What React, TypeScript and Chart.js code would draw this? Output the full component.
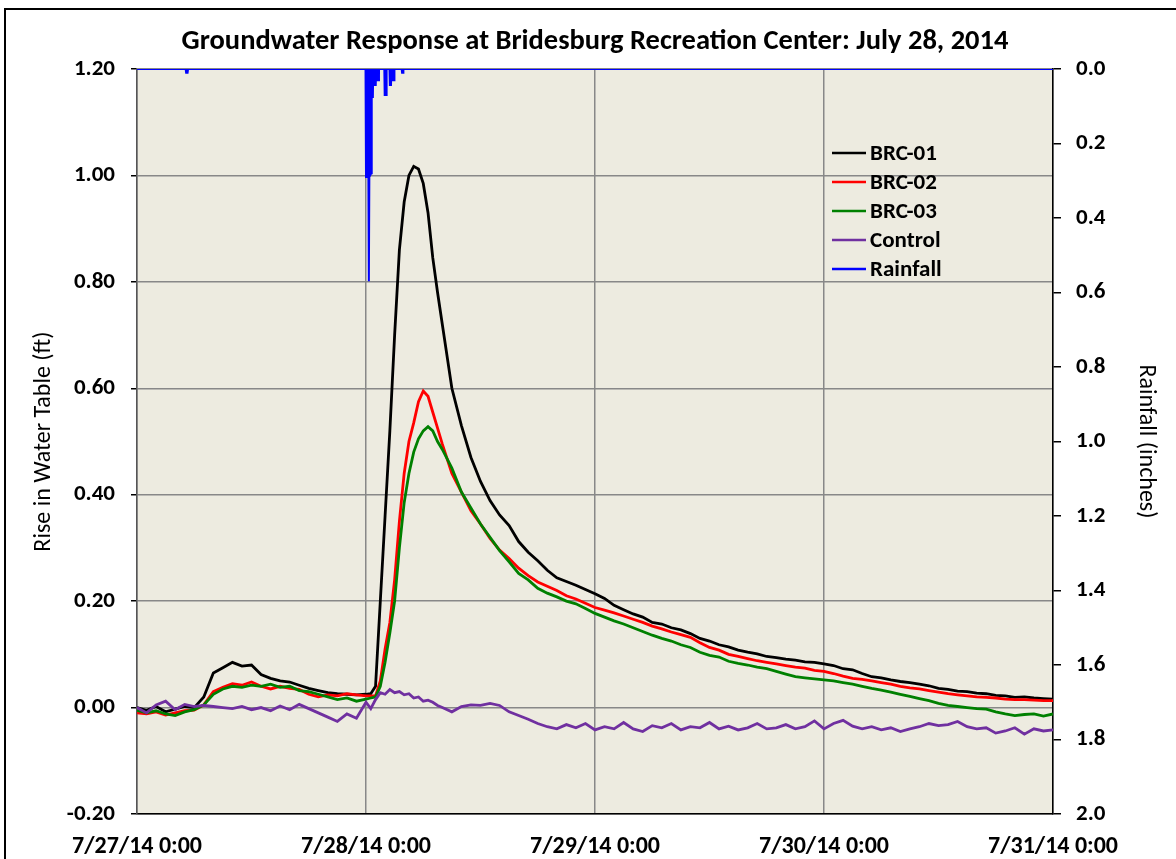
import React, { useEffect, useRef } from "react";
import { Chart, registerables } from "chart.js";

Chart.register(...registerables);

const TITLE = "Groundwater Response at Bridesburg Recreation Center: July 28, 2014";
const LEFT_TITLE = "Rise in Water Table (ft)";
const RIGHT_TITLE = "Rainfall (inches)";
const xTickLabels = ["7/27/14 0:00", "7/28/14 0:00", "7/29/14 0:00", "7/30/14 0:00", "7/31/14 0:00"];
const seriesNames = ["BRC-01", "BRC-02", "BRC-03", "Control", "Rainfall"];
const seriesColors = ["#000000", "#FF0000", "#008000", "#7030A0", "#0000FF"];

// hours since 7/27/14 0:00
const hours = [
  0, 1, 2, 3, 4, 5, 6, 7, 8, 9, 10, 11, 12,
  13, 14, 15, 16, 17, 18, 19, 20, 21, 22, 23, 24,
  24.5, 25, 25.5, 26, 26.5, 27, 27.5, 28, 28.5, 29, 29.5, 30, 30.5, 31, 31.5, 32,
  33, 34, 35, 36, 37, 38, 39, 40, 41, 42, 43, 44, 45, 46, 47, 48,
  49, 50, 51, 52, 53, 54, 55, 56, 57, 58, 59, 60, 61, 62, 63, 64,
  65, 66, 67, 68, 69, 70, 71, 72, 73, 74, 75, 76, 77, 78, 79, 80,
  81, 82, 83, 84, 85, 86, 87, 88, 89, 90, 91, 92, 93, 94, 95, 96,
];

const brc01 = [
  0.0, -0.005, 0.002, -0.008, -0.003, 0.002, 0.0, 0.02, 0.065, 0.075, 0.085, 0.078, 0.08,
  0.062, 0.055, 0.05, 0.048, 0.042, 0.036, 0.032, 0.028, 0.026, 0.025, 0.024, 0.025,
  0.026, 0.04, 0.2, 0.36, 0.52, 0.7, 0.86, 0.95, 1.0, 1.017, 1.012, 0.985, 0.93, 0.845, 0.78, 0.72,
  0.6, 0.53, 0.47, 0.425, 0.389, 0.362, 0.342, 0.312, 0.292, 0.276, 0.258, 0.244, 0.237, 0.23, 0.222, 0.214,
  0.205, 0.192, 0.184, 0.176, 0.17, 0.16, 0.157, 0.15, 0.146, 0.139, 0.13, 0.125, 0.118, 0.114, 0.108, 0.104,
  0.101, 0.096, 0.094, 0.091, 0.089, 0.086, 0.085, 0.082, 0.079, 0.073, 0.071, 0.064, 0.058, 0.056, 0.052, 0.049,
  0.047, 0.044, 0.041, 0.036, 0.034, 0.031, 0.03, 0.027, 0.026, 0.023, 0.022, 0.019, 0.02, 0.018, 0.017, 0.016,
];

const brc02 = [
  -0.01, -0.012, -0.008, -0.014, -0.01, -0.006, -0.005, 0.005, 0.03, 0.038, 0.045, 0.042, 0.048,
  0.04, 0.035, 0.04, 0.036, 0.034, 0.025, 0.02, 0.024, 0.022, 0.026, 0.024, 0.022,
  0.022, 0.022, 0.05, 0.11, 0.16, 0.24, 0.35, 0.44, 0.5, 0.535, 0.575, 0.595, 0.585, 0.555, 0.525, 0.495,
  0.44, 0.405, 0.37, 0.345, 0.318, 0.296, 0.28, 0.262, 0.248, 0.236, 0.228, 0.22, 0.21, 0.204, 0.196, 0.188,
  0.183, 0.178, 0.172, 0.166, 0.16, 0.153, 0.148, 0.142, 0.137, 0.132, 0.122, 0.113, 0.108, 0.1, 0.096, 0.092,
  0.088, 0.085, 0.082, 0.079, 0.076, 0.074, 0.07, 0.068, 0.064, 0.059, 0.055, 0.053, 0.05, 0.047, 0.044, 0.04,
  0.037, 0.035, 0.032, 0.029, 0.026, 0.024, 0.022, 0.02, 0.019, 0.018, 0.016, 0.015, 0.015, 0.014, 0.013, 0.013,
];

const brc03 = [
  -0.005, -0.01, -0.006, -0.012, -0.015, -0.008, -0.004, 0.005, 0.025, 0.035, 0.04, 0.038, 0.042,
  0.04, 0.044, 0.038, 0.04, 0.032, 0.03, 0.025, 0.02, 0.015, 0.018, 0.012, 0.016,
  0.018, 0.02, 0.04, 0.085, 0.14, 0.2, 0.3, 0.385, 0.44, 0.48, 0.505, 0.52, 0.528, 0.52, 0.5, 0.485,
  0.45, 0.405, 0.375, 0.345, 0.32, 0.295, 0.274, 0.252, 0.24, 0.224, 0.215, 0.208, 0.2, 0.195, 0.186, 0.177,
  0.17, 0.163, 0.157, 0.15, 0.143, 0.136, 0.13, 0.125, 0.118, 0.113, 0.104, 0.098, 0.095, 0.087, 0.083, 0.08,
  0.076, 0.073, 0.068, 0.063, 0.058, 0.056, 0.054, 0.052, 0.05, 0.047, 0.044, 0.04, 0.036, 0.033, 0.029, 0.025,
  0.021, 0.017, 0.013, 0.008, 0.004, 0.002, 0.0, -0.002, -0.003, -0.008, -0.012, -0.015, -0.013, -0.012, -0.016, -0.012,
];

const control = [
  0.0, -0.01, 0.005, 0.012, -0.004, 0.006, 0.002, 0.004, 0.002, 0.0, -0.002, 0.002, -0.004,
  0.0, -0.006, 0.003, -0.004, 0.006, -0.002, -0.01, -0.018, -0.026, -0.012, -0.02, 0.01,
  -0.002, 0.015, 0.028, 0.025, 0.034, 0.028, 0.03, 0.024, 0.026, 0.018, 0.02, 0.012, 0.014, 0.01, 0.004, 0.0,
  -0.008, 0.002, 0.005, 0.004, 0.008, 0.004, -0.008, -0.015, -0.022, -0.03, -0.036, -0.04, -0.032, -0.038, -0.03, -0.042,
  -0.036, -0.04, -0.028, -0.04, -0.045, -0.034, -0.038, -0.03, -0.042, -0.036, -0.038, -0.028, -0.04, -0.035, -0.042, -0.038,
  -0.03, -0.04, -0.038, -0.032, -0.04, -0.036, -0.025, -0.04, -0.03, -0.024, -0.035, -0.04, -0.036, -0.042, -0.038, -0.045,
  -0.04, -0.036, -0.03, -0.034, -0.032, -0.026, -0.036, -0.04, -0.038, -0.048, -0.044, -0.038, -0.05, -0.04, -0.044, -0.042,
];

const rainHours = [
  0, 5.1, 5.15, 5.3, 5.35, 23.95, 24.0, 24.25, 24.3, 24.35, 24.55, 24.6, 24.72, 24.76,
  24.84, 24.88, 25.02, 25.06, 25.16, 25.2, 25.32, 25.36, 25.92, 25.96, 26.12, 26.16,
  26.46, 26.5, 26.62, 26.66, 26.78, 26.82, 26.94, 26.98, 27.74, 27.78, 27.88, 27.92, 96,
];
const rainInches = [
  0, 0, 0.01, 0.01, 0, 0, 0.29, 0.29, 0.57, 0.29, 0.28, 0.075, 0.075, 0,
  0, 0.043, 0.043, 0, 0, 0.03, 0.03, 0, 0, 0.07, 0.07, 0,
  0, 0.043, 0.043, 0, 0, 0.03, 0.03, 0, 0, 0.01, 0.01, 0, 0,
];

const FONT = 'Carlito, Lato, "Open Sans", sans-serif';

const pts = (xs: number[], ys: number[]) => xs.map((x, i) => ({ x, y: ys[i] }));
const fmt = (v: any, d: number) => {
  const n = Number(v);
  return (Math.abs(n) < 1e-9 ? 0 : n).toFixed(d);
};

export default function App() {
  const ref = useRef<HTMLCanvasElement | null>(null);

  useEffect(() => {
    if (!ref.current) return;
    const decor = {
      id: "decor",
      beforeDraw(chart: any) {
        const { ctx, chartArea: a, width, height } = chart;
        ctx.save();
        ctx.fillStyle = "#ffffff";
        ctx.fillRect(0, 0, width, height);
        ctx.fillStyle = "#EDEBE0";
        ctx.fillRect(a.left, a.top, a.right - a.left, a.bottom - a.top);
        ctx.restore();
      },
      afterDraw(chart: any) {
        const { ctx, width, height } = chart;
        ctx.save();
        ctx.fillStyle = "#000";
        ctx.fillRect(4, 8, width - 4, 2);
        ctx.fillRect(4, 8, 2, height - 8);
        ctx.font = `bold 28.5px ${FONT}`;
        ctx.textAlign = "center";
        ctx.textBaseline = "middle";
        ctx.fillStyle = "#000";
        ctx.fillText(TITLE, 595, 42);
        ctx.font = `bold 23px ${FONT}`;
        ctx.textAlign = "left";
        seriesNames.forEach((name, i) => {
          const y = 153 + i * 29;
          ctx.strokeStyle = seriesColors[i];
          ctx.lineWidth = 2.5;
          ctx.beginPath();
          ctx.moveTo(832, y);
          ctx.lineTo(866, y);
          ctx.stroke();
          ctx.fillStyle = "#000";
          ctx.fillText(name, 870, y + 1);
        });
        ctx.restore();
      },
    };

    const lineDs = (i: number, ys: number[], order: number) => ({
      label: seriesNames[i],
      data: pts(hours, ys),
      borderColor: seriesColors[i],
      backgroundColor: seriesColors[i],
      borderWidth: 2.8,
      pointRadius: 0,
      tension: 0,
      yAxisID: "y",
      order,
    });

    const chart = new Chart(ref.current, {
      type: "line",
      data: {
        datasets: [
          lineDs(0, brc01, 5),
          lineDs(1, brc02, 4),
          lineDs(2, brc03, 3),
          lineDs(3, control, 2),
          {
            label: seriesNames[4],
            data: pts(rainHours, rainInches),
            borderColor: seriesColors[4],
            backgroundColor: seriesColors[4],
            borderWidth: 2,
            pointRadius: 0,
            tension: 0,
            fill: "origin",
            yAxisID: "y2",
            order: 1,
          },
        ],
      },
      options: {
        animation: false,
        responsive: false,
        layout: { padding: { top: 69, left: 0, right: 0, bottom: 0 } },
        plugins: { legend: { display: false }, tooltip: { enabled: false }, title: { display: false } },
        scales: {
          x: {
            type: "linear",
            min: 0,
            max: 96,
            afterFit: (s: any) => { s.height = 45; },
            ticks: {
              stepSize: 24,
              autoSkip: false,
              maxRotation: 0,
              padding: 19,
              color: "#000",
              font: { family: FONT, size: 24, weight: "bold" },
              callback: (v: any) => xTickLabels[Math.round(Number(v) / 24)] ?? "",
            },
            grid: { color: "#888888", lineWidth: 1.5, drawTicks: false },
            border: { color: "#000", width: 1.5 },
          },
          y: {
            position: "left",
            min: -0.2,
            max: 1.2,
            afterFit: (s: any) => { s.width = 137; },
            ticks: {
              stepSize: 0.2,
              padding: 16,
              color: "#000",
              font: { family: FONT, size: 23, weight: "bold" },
              callback: (v: any) => fmt(v, 2),
            },
            grid: { color: "#888888", lineWidth: 1.5, tickColor: "#000", tickLength: 6 },
            border: { color: "#555", width: 1.5 },
            title: {
              display: true,
              text: LEFT_TITLE,
              color: "#000",
              font: { family: FONT, size: 24, weight: "normal" },
              padding: { top: 30, bottom: 0 },
            },
          },
          y2: {
            position: "right",
            reverse: true,
            min: 0,
            max: 2,
            afterFit: (s: any) => { s.width = 123; },
            ticks: {
              stepSize: 0.2,
              padding: 15,
              color: "#000",
              font: { family: FONT, size: 23, weight: "bold" },
              callback: (v: any) => fmt(v, 1),
            },
            grid: { drawOnChartArea: false, tickColor: "#000", tickLength: 8, lineWidth: 1.5 },
            border: { color: "#000", width: 1.5 },
            title: {
              display: true,
              text: RIGHT_TITLE,
              color: "#000",
              font: { family: FONT, size: 24, weight: "normal" },
              padding: { top: 16, bottom: 0 },
            },
          },
        },
      },
      plugins: [decor],
    } as any);
    return () => chart.destroy();
  }, []);

  return (
    <div style={{ position: "fixed", left: 0, top: 0, width: 1176, height: 859 }}>
      <canvas ref={ref} width={1176} height={859} style={{ display: "block" }} />
    </div>
  );
}
